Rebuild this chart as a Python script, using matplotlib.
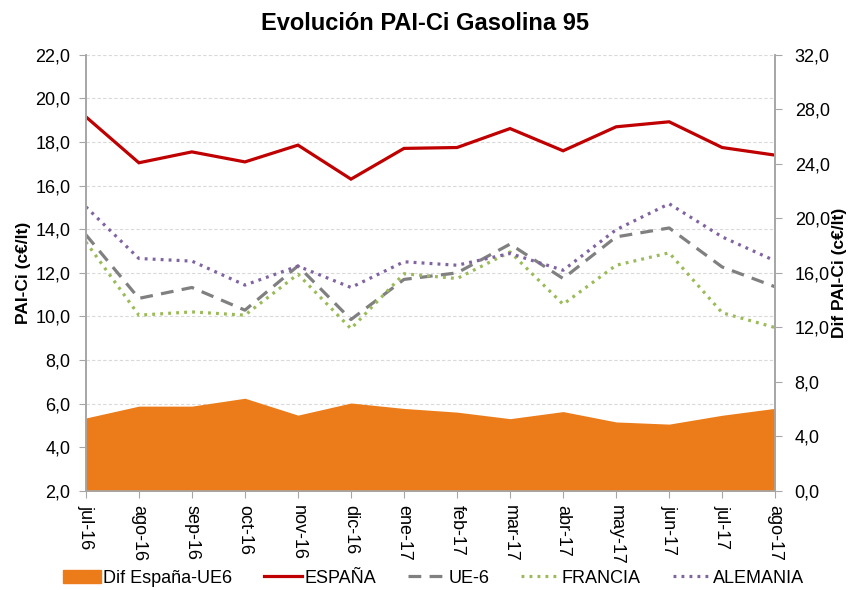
import matplotlib
matplotlib.use("Agg")
import matplotlib.pyplot as plt
from matplotlib.ticker import FuncFormatter, MultipleLocator
from matplotlib.patches import Patch
from matplotlib.lines import Line2D
import numpy as np

plt.rcParams['font.family'] = ['Liberation Sans', 'DejaVu Sans']

meses = ['jul-16', 'ago-16', 'sep-16', 'oct-16', 'nov-16', 'dic-16', 'ene-17',
         'feb-17', 'mar-17', 'abr-17', 'may-17', 'jun-17', 'jul-17', 'ago-17']
espana = [19.16, 17.05, 17.55, 17.09, 17.86, 16.30, 17.71,
          17.75, 18.62, 17.60, 18.70, 18.93, 17.75, 17.40]
ue6 = [13.75, 10.83, 11.33, 10.29, 12.32, 9.86, 11.70,
       12.00, 13.32, 11.74, 13.65, 14.06, 12.27, 11.36]
francia = [13.42, 10.06, 10.21, 10.06, 11.94, 9.44, 11.96,
           11.74, 12.96, 10.56, 12.35, 12.92, 10.17, 9.49]
alemania = [15.03, 12.66, 12.54, 11.44, 12.31, 11.33, 12.51,
            12.35, 12.89, 12.12, 13.98, 15.17, 13.65, 12.55]
dif = [5.35, 6.22, 6.22, 6.80, 5.56, 6.45, 6.05,
       5.78, 5.30, 5.82, 5.06, 4.90, 5.55, 6.06]

c_area = '#EC7C19'
c_esp = '#C00000'
c_ue = '#808080'
c_fra = '#9BBB59'
c_ale = '#8064A2'

dots = (0, (0.9, 1.6))

fmt = FuncFormatter(lambda v, p: ('%.1f' % v).replace('.', ','))

fig = plt.figure(figsize=(8.5, 5.9), dpi=100)
ax = fig.add_axes([0.101, 0.168, 0.811, 0.739])
ax2 = ax.twinx()

x = np.arange(len(meses))

# area de la diferencia en el eje derecho
ax2.fill_between(x, 0, dif, color=c_area, linewidth=0)

ax.plot(x, espana, color=c_esp, lw=2.3, solid_joinstyle='miter')
ax.plot(x, ue6, color=c_ue, lw=2.3, dashes=(4, 2.6))
ax.plot(x, francia, color=c_fra, lw=2.3, linestyle=dots)
ax.plot(x, alemania, color=c_ale, lw=2.3, linestyle=dots)

ax.set_xlim(0, len(meses) - 1)
ax.set_ylim(2, 22)
ax.yaxis.set_major_locator(MultipleLocator(2))
ax.yaxis.set_major_formatter(fmt)
ax2.set_ylim(0, 32)
ax2.yaxis.set_major_locator(MultipleLocator(4))
ax2.yaxis.set_major_formatter(fmt)

ax.grid(axis='y', color='#D9D9D9', lw=0.8, dashes=(3, 2))
ax.set_axisbelow(True)

ax.set_xticks(x)
ax.set_xticklabels(meses, rotation=-90, fontsize=13)
ax.tick_params(axis='y', labelsize=13, length=5, color='#A6A6A6', pad=6)
ax.tick_params(axis='x', length=5, color='#A6A6A6', pad=5)
ax2.tick_params(axis='y', labelsize=13, length=5, color='#A6A6A6', pad=9)

for a in (ax, ax2):
    a.spines['top'].set_visible(False)
    for s in ('left', 'right', 'bottom'):
        a.spines[s].set_color('#A6A6A6')
        a.spines[s].set_linewidth(1.2)

ax.set_ylabel('PAI-Ci (c€/lt)', fontsize=12.5, fontweight='bold')
ax.yaxis.set_label_coords(-0.08, 0.5)
ax2.set_ylabel('Dif PAI-Ci (c€/lt)', fontsize=12.5, fontweight='bold', rotation=90)
ax2.yaxis.set_label_coords(1.083, 0.5)

fig.suptitle('Evolución PAI-Ci Gasolina 95', fontsize=17, fontweight='bold',
             y=0.96, va='center')

handles = [
    Patch(color=c_area, label='Dif España-UE6'),
    Line2D([], [], color=c_esp, lw=2.3, label='ESPAÑA'),
    Line2D([], [], color=c_ue, lw=2.3, dashes=(4, 2.6), label='UE-6'),
    Line2D([], [], color=c_fra, lw=2.3, linestyle=dots, label='FRANCIA'),
    Line2D([], [], color=c_ale, lw=2.3, linestyle=dots, label='ALEMANIA'),
]
fig.legend(handles=handles, loc='center', bbox_to_anchor=(0.51, 0.02), ncol=5,
           frameon=False, fontsize=13, handlelength=2.1, handleheight=0.8,
           handletextpad=0.15, columnspacing=1.75)

fig.savefig('out.png', dpi=100)
